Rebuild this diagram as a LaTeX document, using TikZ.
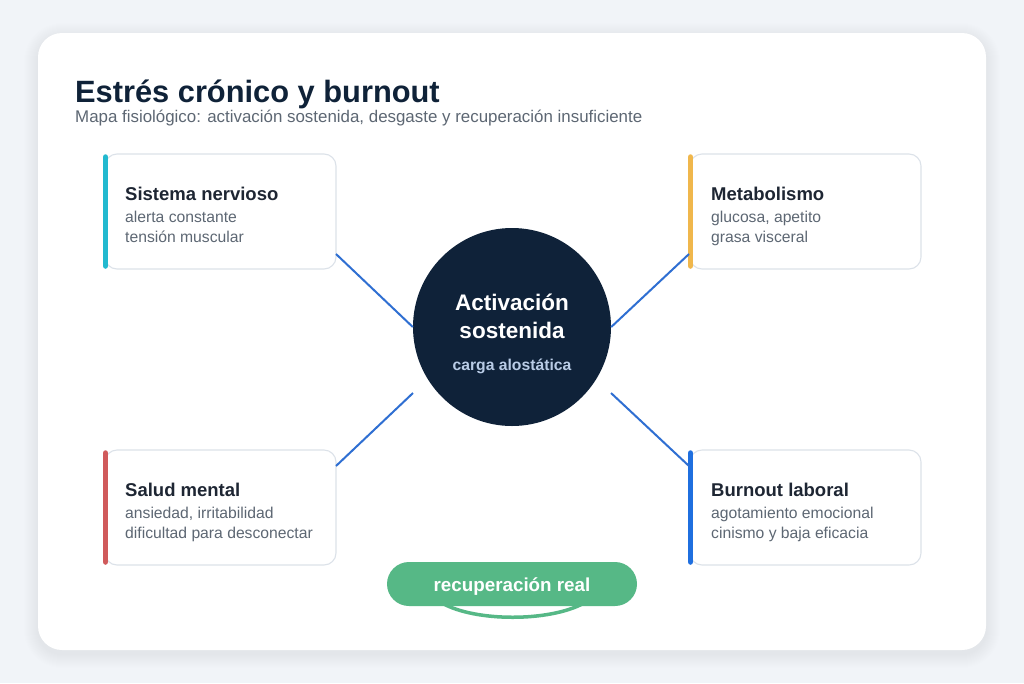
\documentclass[tikz,border=0pt]{standalone}
\usepackage{fontspec}
\setmainfont{Liberation Sans}
\usetikzlibrary{positioning}

\definecolor{pagebg}{HTML}{F1F4F8}
\definecolor{ink}{HTML}{0F2238}
\definecolor{cardink}{HTML}{1E2633}
\definecolor{muted}{HTML}{5D6773}
\definecolor{cardline}{HTML}{DCE2E9}
\definecolor{linkblue}{HTML}{2F6FD2}
\definecolor{hubnavy}{HTML}{0F2239}
\definecolor{hubsub}{HTML}{B9CCE6}
\definecolor{barcyan}{HTML}{22B9CF}
\definecolor{baramber}{HTML}{F0B74C}
\definecolor{barred}{HTML}{D05A5B}
\definecolor{barblue}{HTML}{1F6FDF}
\definecolor{recgreen}{HTML}{56B886}

\tikzset{
  card/.style={draw=cardline, line width=1.1pt, fill=white, rounded corners=12pt,
    minimum width=231pt, minimum height=115pt, inner sep=0pt},
  bar/.style={line width=5.5pt, line cap=round},
  head/.style={anchor=base west, inner sep=0pt, text=cardink,
    font=\bfseries\fontsize{18.5}{20}\selectfont},
  body/.style={anchor=base west, inner sep=0pt, text=muted,
    font=\fontsize{15.7}{20}\selectfont},
  link/.style={draw=linkblue, line width=2pt},
}

\begin{document}
\begin{tikzpicture}[x=1pt,y=-1pt]
\useasboundingbox (0,0) rectangle (1024,683);
\fill[pagebg] (0,0) rectangle (1024,683);

% sheet with soft shadow
\foreach \i in {1,...,14}
  \fill[black, opacity=0.005, rounded corners=24pt+\i pt]
    (38-\i,37-\i) rectangle (986+\i,654+\i);
\fill[white, rounded corners=24pt] (38,33) rectangle (986,650);

\node[anchor=base west, inner sep=0pt, text=ink, font=\bfseries\fontsize{30.8}{32}\selectfont]
  (title) at (75,102) {Estrés crónico y burnout};
\node[anchor=base west, inner sep=0pt, text=muted, font=\fontsize{16.9}{18}\selectfont]
  (subtitle) at (75,122) {Mapa fisiológico: activación sostenida, desgaste y recuperación insuficiente};

% cards
\node[card] (c1) at (220.5,211.5) {};
\node[card] (c2) at (805.5,211.5) {};
\node[card] (c3) at (220.5,507.5) {};
\node[card] (c4) at (805.5,507.5) {};

\draw[bar, barcyan] (105.5,157) -- (105.5,266);
\draw[bar, baramber] (690.5,157) -- (690.5,266);
\draw[bar, barred] (105.5,453) -- (105.5,562);
\draw[bar, barblue] (690.5,453) -- (690.5,562);

\node[head] (t1) at (125,200) {Sistema nervioso};
\node[body] (t1a) at (125,222) {alerta constante};
\node[body] (t1b) at (125,242) {tensión muscular};

\node[head] (t2) at (711,200) {Metabolismo};
\node[body] (t2a) at (711,222) {glucosa, apetito};
\node[body] (t2b) at (711,242) {grasa visceral};

\node[head] (t3) at (125,496) {Salud mental};
\node[body] (t3a) at (125,518) {ansiedad, irritabilidad};
\node[body] (t3b) at (125,538) {dificultad para desconectar};

\node[head] (t4) at (711,496) {Burnout laboral};
\node[body] (t4a) at (711,518) {agotamiento emocional};
\node[body] (t4b) at (711,538) {cinismo y baja eficacia};

% hub
\node[circle, fill=hubnavy, minimum size=198pt, inner sep=0pt] (hub) at (512,327) {};
\node[text=white, font=\bfseries\fontsize{22.5}{28}\selectfont, align=center, inner sep=0pt]
  (hubtxt) at (512,316) {Activación\\sostenida};
\node[anchor=base, text=hubsub, font=\bfseries\fontsize{15.7}{18}\selectfont, inner sep=0pt]
  (hubsubtxt) at (512,370) {carga alostática};

% links
\coordinate (p1) at (336,254);
\coordinate (p2) at (689,254);
\coordinate (p3) at (336,466);
\coordinate (p4) at (689,466);
\coordinate (h3) at (413,393);
\coordinate (h4) at (611,393);
\draw[link] (p1) -- (hub.west);
\draw[link] (p2) -- (hub.east);
\draw[link] (p3) -- (h3);
\draw[link] (p4) -- (h4);

% recovery
\coordinate (r1) at (442,603);
\coordinate (r2) at (584,603);
\draw[recgreen, line width=3.5pt] (r1) .. controls (475,622) and (550,622) .. (r2);
\node[fill=recgreen, rounded corners=22pt, minimum width=250pt, minimum height=44pt,
  inner sep=0pt] (rec) at (512,584) {};
\node[anchor=base, text=white, font=\bfseries\fontsize{18.8}{20}\selectfont, inner sep=0pt]
  (rectxt) at (512,591) {recuperación real};
\end{tikzpicture}
\end{document}
